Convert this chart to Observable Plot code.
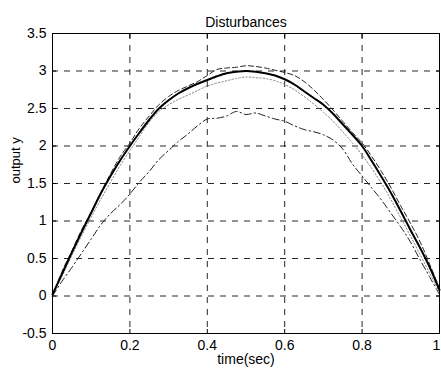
<!DOCTYPE html>
<html>
<head>
<meta charset="utf-8">
<script src="https://cdn.jsdelivr.net/npm/d3@7"></script>
<script src="https://cdn.jsdelivr.net/npm/@observablehq/plot@0.6"></script>
<style>
  html, body { margin: 0; padding: 0; background: #fff; }
  #chart svg { display: block; }
</style>
</head>
<body>
<div id="chart"></div>
<script>
const title = "Disturbances";
const xLabel = "time(sec)";
const yLabel = "output y";
const xTicks = [0, 0.2, 0.4, 0.6, 0.8, 1];
const yTicks = [-0.5, 0, 0.5, 1, 1.5, 2, 2.5, 3, 3.5];

const time = [0, 0.025, 0.05, 0.075, 0.1, 0.125, 0.15, 0.175, 0.2, 0.225, 0.25, 0.275, 0.3, 0.325, 0.35, 0.375, 0.4, 0.425, 0.45, 0.475, 0.5,
  0.525, 0.55, 0.575, 0.6, 0.625, 0.65, 0.675, 0.7, 0.725, 0.75, 0.775, 0.8, 0.825, 0.85, 0.875, 0.9, 0.925, 0.95, 0.975, 1];

const solidY = [0.02, 0.3, 0.58, 0.85, 1.11, 1.37, 1.6, 1.81, 2.0, 2.18, 2.35, 2.5, 2.61, 2.7, 2.77, 2.83, 2.88, 2.93, 2.97, 2.99, 3.0,
  2.99, 2.97, 2.94, 2.89, 2.82, 2.73, 2.64, 2.55, 2.43, 2.29, 2.15, 2.0, 1.8, 1.59, 1.37, 1.13, 0.88, 0.64, 0.38, 0.08];

const dashedY = [0.0, 0.33, 0.6, 0.88, 1.12, 1.38, 1.63, 1.86, 2.04, 2.24, 2.4, 2.55, 2.66, 2.74, 2.8, 2.86, 2.94, 3.02, 3.04, 3.05, 3.07,
  3.06, 3.04, 3.01, 2.98, 2.94, 2.86, 2.75, 2.62, 2.48, 2.33, 2.18, 2.04, 1.86, 1.66, 1.44, 1.2, 0.97, 0.72, 0.42, 0.1];

const dottedY = [0.0, 0.27, 0.54, 0.8, 1.05, 1.29, 1.52, 1.74, 1.94, 2.13, 2.32, 2.46, 2.55, 2.62, 2.68, 2.74, 2.8, 2.84, 2.87, 2.9, 2.92,
  2.91, 2.9, 2.87, 2.82, 2.75, 2.66, 2.56, 2.45, 2.33, 2.19, 2.04, 1.88, 1.7, 1.5, 1.28, 1.04, 0.8, 0.55, 0.3, 0.05];

const dashDotY = [0.0, 0.2, 0.38, 0.57, 0.76, 0.95, 1.1, 1.22, 1.36, 1.52, 1.66, 1.82, 1.94, 2.06, 2.16, 2.27, 2.36, 2.37, 2.4, 2.46, 2.42,
  2.44, 2.4, 2.36, 2.33, 2.27, 2.22, 2.19, 2.15, 2.08, 1.96, 1.76, 1.6, 1.44, 1.28, 1.1, 0.92, 0.72, 0.48, 0.25, 0.02];

const rows = ys => time.map((t, i) => ({t, y: ys[i]}));
const fmt = d => String(d);
const blank = () => "";
const fs = 14;
const xInner = xTicks.slice(0, -1);
const xLast = xTicks.slice(-1);

const chart = Plot.plot({
  width: 441,
  height: 373,
  marginLeft: 52,
  marginRight: 2,
  marginTop: 33,
  marginBottom: 40,
  style: {fontFamily: "'Liberation Sans', Arial, sans-serif", fontSize: "14px", background: "#fff", color: "#000"},
  x: {domain: [0, 1]},
  y: {domain: [-0.5, 3.5]},
  marks: [
    Plot.gridX(xTicks, {stroke: "#000", strokeOpacity: 0.85, strokeDasharray: "6,6"}),
    Plot.gridY(yTicks, {stroke: "#000", strokeOpacity: 0.85, strokeDasharray: "6,6"}),
    Plot.line(rows(dashDotY), {x: "t", y: "y", stroke: "#222", strokeWidth: 1, strokeDasharray: "7,3,1.5,3", curve: "catmull-rom"}),
    Plot.line(rows(dottedY), {x: "t", y: "y", stroke: "#888", strokeWidth: 1, strokeDasharray: "1.5,2", curve: "catmull-rom"}),
    Plot.line(rows(dashedY), {x: "t", y: "y", stroke: "#222", strokeWidth: 1, strokeDasharray: "5,3", curve: "catmull-rom"}),
    Plot.line(rows(solidY), {x: "t", y: "y", stroke: "#000", strokeWidth: 2, curve: "catmull-rom"}),
    Plot.frame({stroke: "#000", strokeWidth: 1}),
    Plot.axisX(xInner, {anchor: "bottom", tickSize: -4, tickPadding: 11, tickFormat: fmt, fontSize: fs, label: null}),
    Plot.axisX(xLast, {anchor: "bottom", tickSize: 0, tickPadding: 7, tickFormat: fmt, fontSize: fs, label: null, dx: -3}),
    Plot.axisX(xTicks, {anchor: "top", tickSize: -4, tickFormat: blank, label: null}),
    Plot.axisY(yTicks, {anchor: "left", tickSize: -4, tickPadding: 10, tickFormat: fmt, fontSize: fs, label: null}),
    Plot.axisY(yTicks, {anchor: "right", tickSize: -4, tickFormat: blank, label: null}),
    Plot.text([title], {frameAnchor: "top", dy: -16, fontSize: fs}),
    Plot.text([xLabel], {frameAnchor: "bottom", dy: 30, fontSize: fs}),
    Plot.text([yLabel], {frameAnchor: "left", dx: -37, rotate: -90, fontSize: 13})
  ]
});
document.getElementById("chart").append(chart);
</script>
</body>
</html>
